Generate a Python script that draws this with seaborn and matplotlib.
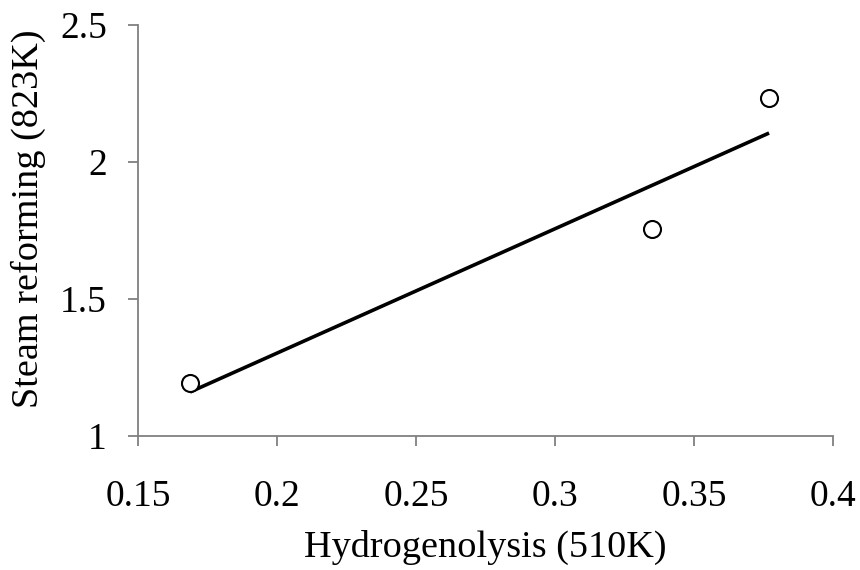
import matplotlib
matplotlib.use("Agg")
import matplotlib.pyplot as plt
import seaborn as sns
import numpy as np
import pandas as pd

hydrogenolysis = [0.1687, 0.335, 0.377]
steam_reforming = [1.193, 1.755, 2.234]
x_ticks = [0.15, 0.2, 0.25, 0.3, 0.35, 0.4]
x_ticklabels = ["0.15", "0.2", "0.25", "0.3", "0.35", "0.4"]
y_ticks = [1, 1.5, 2, 2.5]
y_ticklabels = ["1", "1.5", "2", "2.5"]

df = pd.DataFrame({"x": hydrogenolysis, "y": steam_reforming})

sns.set_theme(style="white")
plt.rcParams["font.family"] = ["Liberation Serif", "DejaVu Serif"]

fig = plt.figure(figsize=(8.6, 5.7), dpi=100)
ax = fig.add_axes([0.1605, 0.235, 0.8081, 0.721])

sns.regplot(data=df, x="x", y="y", ax=ax, ci=None, truncate=True,
            scatter=False, line_kws=dict(color="black", lw=2.6, solid_capstyle="butt"))
sns.scatterplot(data=df, x="x", y="y", ax=ax, marker="o", s=150,
                facecolor="white", edgecolor="black", linewidth=1.5, zorder=5)

ax.set_xlim(0.15, 0.4)
ax.set_ylim(1, 2.5)
ax.set_xticks(x_ticks)
ax.set_xticklabels(x_ticklabels)
ax.set_yticks(y_ticks)
ax.set_yticklabels(y_ticklabels)

for s in ["top", "right"]:
    ax.spines[s].set_visible(False)
for s in ["left", "bottom"]:
    ax.spines[s].set_color("#808080")
    ax.spines[s].set_linewidth(1.3)
ax.tick_params(axis="both", direction="out", length=7.5, width=1.3, color="#808080",
               labelsize=27, labelcolor="black")
ax.tick_params(axis="x", bottom=True, pad=24)
ax.tick_params(axis="y", left=True, pad=15)

ax.set_xlabel("Hydrogenolysis (510K)", fontsize=27.5, color="black", labelpad=11)
ax.set_ylabel("Steam reforming (823K)", fontsize=27.5, color="black", labelpad=10)
ax.yaxis.label.set_y(0.528)
ax.grid(False)

fig.savefig("out.png", dpi=100, facecolor="white")
